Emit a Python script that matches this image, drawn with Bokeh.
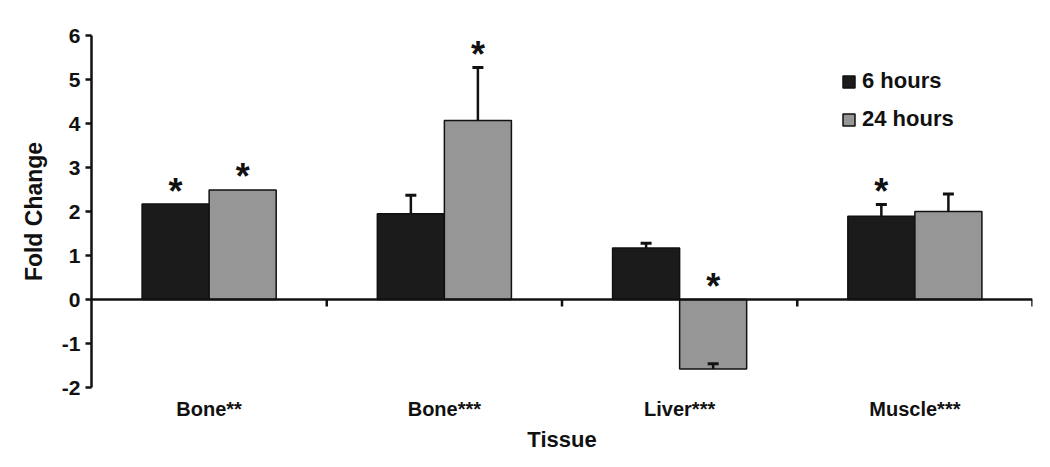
from bokeh.plotting import figure
from bokeh.models import (ColumnDataSource, FactorRange, Range1d, Span, Legend,
                          LegendItem, FixedTicker)
from bokeh.transform import dodge
from bokeh.core.properties import value
from bokeh.embed import file_html
from bokeh.resources import INLINE

categories = ["Bone**", "Bone***", "Liver***", "Muscle***"]
mean_6h = [2.17, 1.95, 1.17, 1.89]
err_6h = [0.0, 0.42, 0.11, 0.27]
mean_24h = [2.49, 4.07, -1.58, 2.00]
err_24h = [0.0, 1.20, 0.12, 0.40]
sig_6h = ["*", "", "", "*"]
sig_24h = ["*", "*", "*", ""]
y_ticks = [-2, -1, 0, 1, 2, 3, 4, 5, 6]

FONT = value("Liberation Sans")
BW = 0.285
OFF = BW / 2

p = figure(width=1042, height=459, x_range=FactorRange(*categories, range_padding=0),
           y_range=Range1d(-2, 6), output_backend="svg", toolbar_location=None,
           min_border_left=91, min_border_right=10, min_border_top=35, min_border_bottom=72)
p.outline_line_color = None
p.xgrid.visible = False
p.ygrid.visible = False
p.background_fill_color = "white"


def series_source(means, errs, sigs):
    upper = [m + e for m, e in zip(means, errs)]
    star = [max(m, u, 0) for m, u in zip(means, upper)]
    return ColumnDataSource(dict(cat=categories, top=means, err=errs, upper=upper,
                                 star=star, sig=sigs))


src6 = series_source(mean_6h, err_6h, sig_6h)
src24 = series_source(mean_24h, err_24h, sig_24h)

r6 = p.vbar(x=dodge("cat", -OFF, range=p.x_range), top="top", bottom=0, width=BW,
            source=src6, fill_color="#1b1b1b", line_color="#111111", line_width=1.5)
r24 = p.vbar(x=dodge("cat", OFF, range=p.x_range), top="top", bottom=0, width=BW,
             source=src24, fill_color="#969696", line_color="#111111", line_width=1.5)

# error bars (only where error > 0)
for means, errs, off in ((mean_6h, err_6h, -OFF), (mean_24h, err_24h, OFF)):
    keep = [i for i, e in enumerate(errs) if e > 0]
    es = ColumnDataSource(dict(cat=[categories[i] for i in keep],
                               top=[means[i] for i in keep],
                               upper=[means[i] + errs[i] for i in keep]))
    p.segment(x0=dodge("cat", off, range=p.x_range), y0="top",
              x1=dodge("cat", off, range=p.x_range), y1="upper",
              source=es, line_color="#111111", line_width=2.5)
    p.scatter(x=dodge("cat", off, range=p.x_range), y="upper", marker="dash", size=11,
              source=es, line_color="#111111", line_width=3)

# significance stars
for src, off in ((src6, -OFF), (src24, OFF)):
    p.text(x=dodge("cat", off, range=p.x_range), y="star", text="sig", source=src,
           text_font=FONT, text_font_style="bold", text_font_size="36px",
           text_align="center", text_baseline="middle", y_offset=-13,
           text_color="#111111")

# zero line and category boundary ticks
p.add_layout(Span(location=0, dimension="width", line_color="#111111", line_width=2.5))
p.segment(x0=dodge("cat", 0.5, range=p.x_range), y0=0,
          x1=dodge("cat", 0.5, range=p.x_range), y1=-0.16,
          source=ColumnDataSource(dict(cat=categories)), line_color="#111111", line_width=2.5)

# y axis
ya = p.yaxis[0]
ya.ticker = FixedTicker(ticks=y_ticks)
ya.major_label_overrides = {t: str(t) for t in y_ticks}
ya.axis_label = "Fold Change"
ya.axis_label_text_font = "Liberation Sans"
ya.axis_label_text_font_style = "bold"
ya.axis_label_text_font_size = "23px"
ya.axis_label_text_color = "#111111"
ya.axis_label_standoff = 12
ya.major_label_text_font = "Liberation Sans"
ya.major_label_text_font_style = "bold"
ya.major_label_text_font_size = "21px"
ya.major_label_text_color = "#111111"
ya.major_label_standoff = 5
ya.axis_line_width = 2.5
ya.axis_line_color = "#111111"
ya.major_tick_line_width = 2.5
ya.major_tick_line_color = "#111111"
ya.major_tick_out = 6
ya.major_tick_in = 0
ya.minor_tick_line_color = None

# x axis (labels only)
xa = p.xaxis[0]
xa.axis_label = "Tissue"
xa.axis_label_text_font = "Liberation Sans"
xa.axis_label_text_font_style = "bold"
xa.axis_label_text_font_size = "22px"
xa.axis_label_text_color = "#111111"
xa.axis_label_standoff = 4
xa.major_label_text_font = "Liberation Sans"
xa.major_label_text_font_style = "bold"
xa.major_label_text_font_size = "20px"
xa.major_label_text_color = "#111111"
xa.major_label_standoff = 4
xa.axis_line_color = None
xa.major_tick_line_color = None
xa.minor_tick_line_color = None

legend = Legend(items=[LegendItem(label="6 hours", renderers=[r6]),
                       LegendItem(label="24 hours", renderers=[r24])],
                location=(750, 255), orientation="vertical",
                glyph_width=15, glyph_height=15, label_height=24, spacing=12,
                padding=0, margin=0, label_standoff=6,
                label_text_font="Liberation Sans", label_text_font_style="bold",
                label_text_font_size="22px", label_text_color="#111111",
                border_line_color=None, background_fill_alpha=0)
p.add_layout(legend)

open("out.html", "w").write(file_html(p, INLINE))
